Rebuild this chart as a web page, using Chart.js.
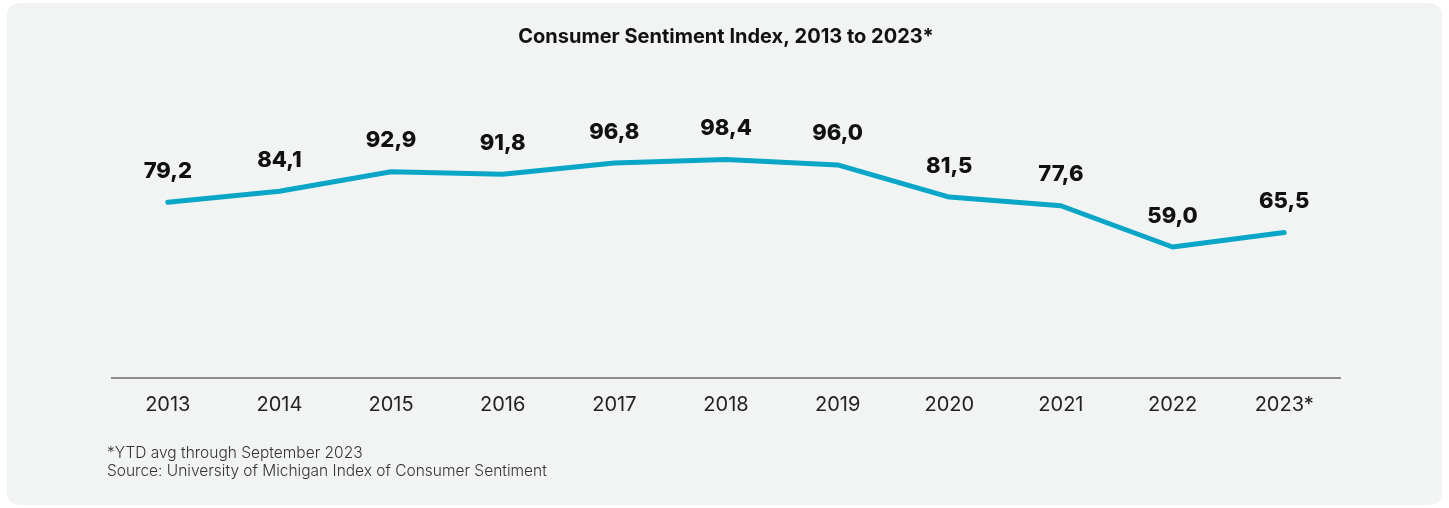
<!DOCTYPE html>
<html>
<head>
<meta charset="utf-8">
<script src="https://cdn.jsdelivr.net/npm/chart.js@4/dist/chart.umd.min.js"></script>
<style>
  html, body { margin: 0; padding: 0; background: #ffffff; }
  #panel {
    position: absolute; left: 7px; top: 3px; width: 1435px; height: 502px;
    background: #f2f4f3; border-radius: 12px; overflow: hidden;
  }
  #chart { position: absolute; left: 0; top: 0; }
  .note {
    position: absolute; left: 100px; font-family: Inter, sans-serif;
    font-size: 15.5px; font-weight: 300; color: #333; line-height: 18px;
  }
</style>
</head>
<body>
<div id="panel">
  <canvas id="chart" width="1435" height="502"></canvas>
  <div class="note" style="top:441px">*YTD avg through September 2023<br>Source: University of Michigan Index of Consumer Sentiment</div>
</div>
<script>
const years = ["2013", "2014", "2015", "2016", "2017", "2018", "2019", "2020", "2021", "2022", "2023*"];
const sentiment = [79.2, 84.1, 92.9, 91.8, 96.8, 98.4, 96.0, 81.5, 77.6, 59.0, 65.5];

// value labels above each point, decimal comma
const pointLabels = {
    id: "pointLabels",
    afterDatasetsDraw(chart) {
        const { ctx } = chart;
        const meta = chart.getDatasetMeta(0);
        ctx.save();
        ctx.font = "800 22px Inter, sans-serif";
        ctx.fillStyle = "#111";
        ctx.textAlign = "center";
        ctx.textBaseline = "middle";
        meta.data.forEach((pt, i) => {
            const txt = sentiment[i].toFixed(1).replace(".", ",");
            ctx.fillText(txt, pt.x, pt.y - 31);
        });
        ctx.restore();
    }
};

new Chart(document.getElementById("chart"), {
    type: "line",
    data: {
        labels: years,
        datasets: [{
            data: sentiment,
            borderColor: "#09a6c7",
            borderWidth: 5,
            pointRadius: 0,
            tension: 0,
            borderCapStyle: "round",
            borderJoinStyle: "round"
        }]
    },
    options: {
        responsive: false,
        animation: false,
        layout: { padding: { left: 105, right: 102, top: 0, bottom: 73 } },
        plugins: {
            legend: { display: false },
            tooltip: { enabled: false },
            title: {
                display: true,
                text: "Consumer Sentiment Index, 2013 to 2023*",
                color: "#111",
                font: { family: "Inter, sans-serif", size: 20, weight: "700" },
                padding: { top: 22, bottom: 107 }
            }
        },
        scales: {
            x: {
                offset: true,
                grid: { display: false, drawTicks: false },
                border: { display: true, color: "#8c8c8c", width: 2 },
                ticks: {
                    color: "#222",
                    padding: 15,
                    font: { family: "Inter, sans-serif", size: 20 }
                }
            },
            y: {
                display: false,
                min: 0,
                max: 100
            }
        }
    },
    plugins: [pointLabels]
});
</script>
</body>
</html>
